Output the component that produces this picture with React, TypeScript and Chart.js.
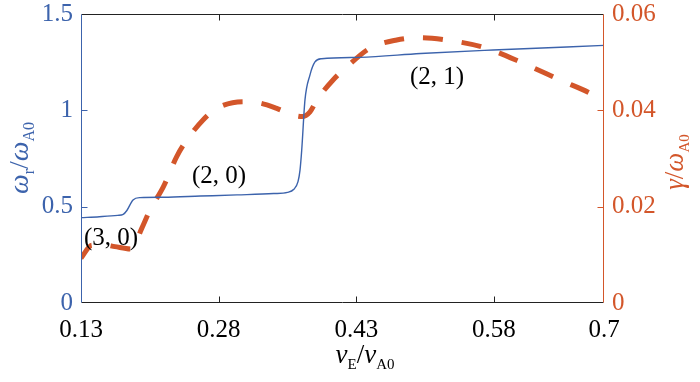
import { useEffect, useRef } from 'react';
import { Chart, registerables } from 'chart.js';

Chart.register(...registerables);

// x axis: v_E / v_A0
const xTicks = [0.13, 0.28, 0.43, 0.58, 0.7];

// Blue: omega_r / omega_A0 (left axis)
const omegaX = [0.13, 0.15, 0.17, 0.176, 0.18, 0.1867, 0.1943, 0.22, 0.26, 0.3, 0.34, 0.355, 0.362, 0.3665, 0.3687, 0.3705, 0.3741, 0.3795, 0.385, 0.3923, 0.434, 0.5, 0.579, 0.7];
const omegaY = [0.443, 0.448, 0.455, 0.46, 0.48, 0.535, 0.547, 0.549, 0.555, 0.561, 0.568, 0.574, 0.59, 0.63, 0.69, 0.79, 1.054, 1.183, 1.251, 1.268, 1.275, 1.295, 1.313, 1.337];

// Red dashed: gamma / omega_A0 (right axis)
const gammaX = [0.13, 0.1417, 0.155, 0.167, 0.1853, 0.1962, 0.2052, 0.2197, 0.2343, 0.2452, 0.263, 0.2779, 0.3069, 0.3251, 0.3433, 0.3614, 0.3709, 0.3796, 0.3869, 0.4047, 0.4196, 0.445, 0.4741, 0.4995, 0.5286, 0.5681, 0.6117, 0.652, 0.6884, 0.7];
const gammaY = [0.0093, 0.012, 0.0121, 0.0117, 0.0112, 0.0155, 0.0193, 0.0241, 0.0304, 0.0338, 0.038, 0.0404, 0.0418, 0.0415, 0.0404, 0.039, 0.0387, 0.0397, 0.0421, 0.0463, 0.049, 0.0529, 0.0546, 0.0551, 0.0546, 0.0531, 0.0498, 0.0463, 0.0432, 0.0417];

// Mode annotations (positions in data units, left axis)
const modeLabels = ['(3, 0)', '(2, 0)', '(2, 1)'];
const modeX = [0.1627, 0.2804, 0.518];
const modeY = [0.337, 0.659, 1.173];

const BLUE = '#3C63AC';
const RED = '#D3562A';
const SERIF = '"Liberation Serif", "Times New Roman", Times, serif';

type Part = { t: string; font: string; dy: number };

function drawRich(ctx: CanvasRenderingContext2D, parts: Part[], x: number, y: number, rot: number, color: string) {
  ctx.save();
  ctx.translate(x, y);
  ctx.rotate(rot);
  ctx.fillStyle = color;
  ctx.textBaseline = 'alphabetic';
  ctx.textAlign = 'left';
  let total = 0;
  const widths = parts.map((p) => {
    ctx.font = p.font;
    const w = ctx.measureText(p.t).width;
    total += w;
    return w;
  });
  let cx = -total / 2;
  parts.forEach((p, i) => {
    ctx.font = p.font;
    ctx.fillText(p.t, cx, p.dy);
    cx += widths[i];
  });
  ctx.restore();
}

const framePlugin = {
  id: 'frame',
  afterDatasetsDraw(chart: any) {
    const ctx: CanvasRenderingContext2D = chart.ctx;
    const { left, right, top, bottom } = chart.chartArea;
    const xs = chart.scales.x;
    const yl = chart.scales.y;
    const yr = chart.scales.y1;
    const L = Math.round(left) + 0.5;
    const R = Math.round(right) - 0.5;
    const T = Math.round(top) + 0.5;
    const B = Math.round(bottom) - 0.5;
    ctx.save();
    ctx.lineWidth = 1;
    ctx.strokeStyle = '#222';
    ctx.beginPath();
    ctx.moveTo(L, T); ctx.lineTo(R, T);
    ctx.moveTo(L, B); ctx.lineTo(R, B);
    xTicks.slice(1, -1).forEach((v) => {
      const px = Math.round(xs.getPixelForValue(v)) + 0.5;
      ctx.moveTo(px, B); ctx.lineTo(px, B - 6);
      ctx.moveTo(px, T); ctx.lineTo(px, T + 6);
    });
    ctx.stroke();
    ctx.strokeStyle = BLUE;
    ctx.beginPath();
    ctx.moveTo(L, T); ctx.lineTo(L, B);
    [0.5, 1].forEach((v) => {
      const py = Math.round(yl.getPixelForValue(v)) + 0.5;
      ctx.moveTo(L, py); ctx.lineTo(L + 6, py);
    });
    ctx.stroke();
    ctx.strokeStyle = RED;
    ctx.beginPath();
    ctx.moveTo(R, T); ctx.lineTo(R, B);
    [0.02, 0.04].forEach((v) => {
      const py = Math.round(yr.getPixelForValue(v)) + 0.5;
      ctx.moveTo(R, py); ctx.lineTo(R - 6, py);
    });
    ctx.stroke();

    ctx.fillStyle = '#000';
    ctx.font = `25px ${SERIF}`;
    ctx.textAlign = 'center';
    ctx.textBaseline = 'middle';
    modeLabels.forEach((s, i) => {
      ctx.fillText(s, xs.getPixelForValue(modeX[i]), yl.getPixelForValue(modeY[i]));
    });

    const big = `italic 27px ${SERIF}`;
    const bigR = `27px ${SERIF}`;
    const sub = `15px ${SERIF}`;
    drawRich(ctx, [
      { t: 'ω', font: `italic 28px ${SERIF}`, dy: 0 },
      { t: 'r', font: `16px ${SERIF}`, dy: 6 },
      { t: '/', font: `28px ${SERIF}`, dy: 0 },
      { t: 'ω', font: `italic 28px ${SERIF}`, dy: 0 },
      { t: 'A0', font: `16px ${SERIF}`, dy: 6 },
    ], 28, 158, -Math.PI / 2, BLUE);
    drawRich(ctx, [
      { t: 'γ', font: big, dy: 0 },
      { t: '/', font: bigR, dy: 0 },
      { t: 'ω', font: big, dy: 0 },
      { t: 'A0', font: sub, dy: 6 },
    ], 683, 162, -Math.PI / 2, RED);
    drawRich(ctx, [
      { t: 'v', font: big, dy: 0 },
      { t: 'E', font: sub, dy: 6 },
      { t: '/', font: bigR, dy: 0 },
      { t: 'v', font: big, dy: 0 },
      { t: 'A0', font: sub, dy: 6 },
    ], 365, 363, 0, '#000');
    ctx.restore();
  },
};

export default function App() {
  const ref = useRef<HTMLCanvasElement | null>(null);
  useEffect(() => {
    let chart: any = null;
    let cancelled = false;
    const build = () => {
      if (cancelled || !ref.current) return;
      const tickFont = { family: SERIF, size: 25 };
      const fitY = (w: number) => (s: any) => {
        s.width = w;
        s.paddingTop = 0;
        s.paddingBottom = 0;
      };
      chart = new Chart(ref.current, {
        type: 'line',
        data: {
          datasets: [
            {
              data: omegaX.map((x, i) => ({ x, y: omegaY[i] })),
              yAxisID: 'y',
              borderColor: BLUE,
              borderWidth: 1.4,
              pointRadius: 0,
              cubicInterpolationMode: 'monotone',
              fill: false,
            },
            {
              data: gammaX.map((x, i) => ({ x, y: gammaY[i] })),
              yAxisID: 'y1',
              borderColor: RED,
              borderWidth: 5,
              borderDash: [20, 19],
              borderDashOffset: 3,
              borderCapStyle: 'butt',
              pointRadius: 0,
              cubicInterpolationMode: 'monotone',
              fill: false,
            },
          ],
        },
        options: {
          responsive: false,
          animation: false,
          devicePixelRatio: 1,
          layout: { padding: { top: 14, left: 0, right: 0, bottom: 0 } },
          plugins: { legend: { display: false }, tooltip: { enabled: false } },
          scales: {
            x: {
              type: 'linear',
              min: 0.13,
              max: 0.7,
              afterBuildTicks: (s: any) => {
                s.ticks = xTicks.map((v) => ({ value: v }));
              },
              afterFit: (s: any) => {
                s.height = 79;
                s.paddingLeft = 0;
                s.paddingRight = 0;
              },
              grid: { display: false, drawTicks: false },
              border: { display: false },
              ticks: {
                autoSkip: false,
                maxRotation: 0,
                padding: 12,
                color: '#000',
                font: tickFont,
                callback: (v: any) => String(v),
              },
            },
            y: {
              position: 'left',
              min: 0,
              max: 1.5,
              afterFit: fitY(81),
              grid: { display: false, drawTicks: false },
              border: { display: false },
              ticks: {
                stepSize: 0.5,
                padding: 8,
                color: BLUE,
                font: tickFont,
                callback: (v: any) => String(Math.round(v * 10) / 10),
              },
            },
            y1: {
              position: 'right',
              min: 0,
              max: 0.06,
              afterFit: fitY(96),
              grid: { display: false, drawTicks: false },
              border: { display: false },
              ticks: {
                stepSize: 0.02,
                padding: 8,
                color: RED,
                font: tickFont,
                callback: (v: any) => (Math.abs(v) < 1e-9 ? '0' : Number(v).toFixed(2)),
              },
            },
          },
        },
        plugins: [framePlugin],
      } as any);
    };
    const fonts: any = (document as any).fonts;
    if (fonts && fonts.load) {
      Promise.all([
        fonts.load('25px "Liberation Serif"'),
        fonts.load('italic 27px "Liberation Serif"'),
      ]).then(build, build);
    } else {
      build();
    }
    return () => {
      cancelled = true;
      if (chart) chart.destroy();
    };
  }, []);
  return (
    <div style={{ position: 'fixed', left: 0, top: 0, width: 700, height: 382, background: '#fff' }}>
      <canvas ref={ref} width={700} height={382} style={{ display: 'block' }} />
    </div>
  );
}
